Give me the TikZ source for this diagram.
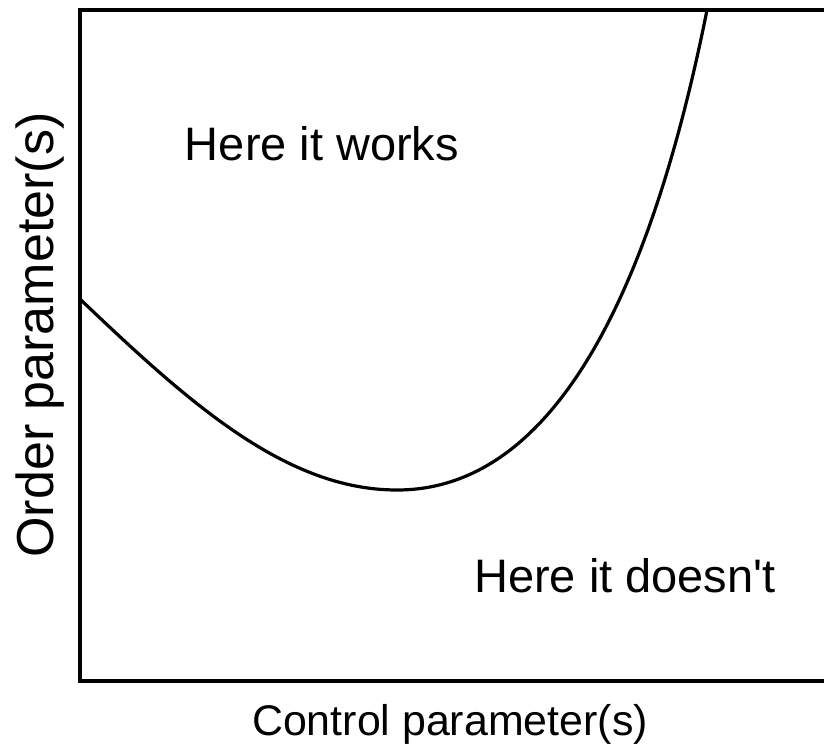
\documentclass[tikz,border=0pt]{standalone}
\usepackage{fontspec}
\setmainfont{Liberation Sans}

\begin{document}
\begin{tikzpicture}[x=0.025cm,y=-0.025cm,
    region/.style={anchor=base,inner sep=0pt,font=\fontsize{33.4}{40}\selectfont},
    axislabel/.style={anchor=base,inner sep=0pt,font=\fontsize{30.5}{36}\selectfont}]
    \useasboundingbox (0,0) rectangle (824,751);

    % corners of the frame
    \coordinate (TL) at (80,10);
    \coordinate (TR) at (824,10);
    \coordinate (BL) at (80,681);
    \coordinate (BR) at (824,681);

    % points on the boundary curve
    \coordinate (S) at (81,300);
    \coordinate (M) at (397,490);
    \coordinate (E) at (707,10);

    % frame (open on the right)
    \draw[line width=0.1cm,line join=miter] (TR) -- (TL) -- (BL) -- (BR);

    % boundary curve
    \draw[line width=0.08cm] (S) .. controls (191,405) and (287,490) .. (M)
        .. controls (547,490) and (647,310) .. (E);

    % texts
    \node[region] (works) at (322,160) {Here it works};
    \node[region] (doesnt) at (625,592) {Here it doesn\textquotesingle t};
    \node[axislabel] (xlabel) at (450,735) {Control parameter(s)};
    \node[axislabel,rotate=90,font=\fontsize{37}{44}\selectfont] (ylabel) at (54,335) {Order parameter(s)};

\end{tikzpicture}
\end{document}
